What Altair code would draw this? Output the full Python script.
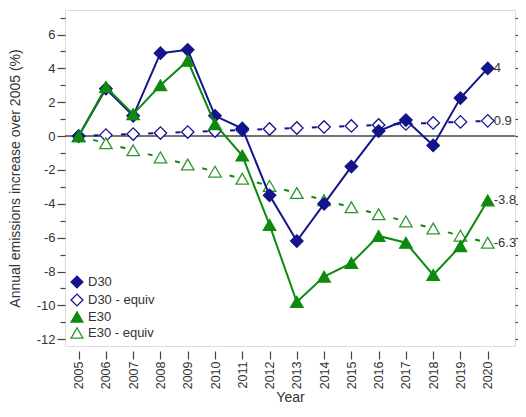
import altair as alt
import pandas as pd

years = list(range(2005, 2021))
d30 = [0, 2.8, 1.2, 4.9, 5.1, 1.2, 0.45, -3.5, -6.2, -4.0, -1.8, 0.3, 0.95, -0.55, 2.25, 4.0]
d30_equiv = [0, 0.06, 0.12, 0.18, 0.24, 0.3, 0.36, 0.42, 0.48, 0.54, 0.6, 0.66, 0.72, 0.78, 0.84, 0.9]
e30 = [0, 2.9, 1.3, 3.0, 4.45, 0.7, -1.15, -5.25, -9.8, -8.3, -7.5, -5.9, -6.3, -8.2, -6.5, -3.8]
e30_equiv = [0, -0.42, -0.84, -1.26, -1.68, -2.1, -2.52, -2.94, -3.36, -3.78, -4.2, -4.62, -5.04, -5.46, -5.88, -6.3]
series_names = ["D30", "D30 - equiv", "E30", "E30 - equiv"]
end_labels = ["4", "0.9", "-3.8", "-6.3"]
y_ticks = list(range(-12, 8))
x_ticks = list(range(2005, 2021))

NAVY = "#14148c"
GREEN = "#0e8a0e"
GREEN2 = "#2f962f"

rows = []
for name, vals, lab in zip(series_names, [d30, d30_equiv, e30, e30_equiv], end_labels):
    for i, (yr, v) in enumerate(zip(years, vals)):
        rows.append({"year": yr, "value": v, "series": name,
                     "label": lab if i == len(years) - 1 else ""})
df = pd.DataFrame(rows)
zero_df = pd.DataFrame({"v": [0]})

yscale = alt.Scale(domain=[-12.4, 7.45], nice=False, zero=False)
xscale = alt.Scale(domain=[2004.5, 2021.0], nice=False, zero=False)

x_axis = alt.Axis(values=x_ticks, format="d",
                  labelAngle=270, labelFontSize=12.5, labelColor="#333", domain=False,
                  offset=5, tickSize=8, tickColor="#444", tickWidth=1.2, labelPadding=2,
                  labelFlush=False,
                  title="Year", titleFontSize=14, titleFontWeight="normal", titleColor="#333",
                  titlePadding=2, grid=False)
X = alt.X("year:Q", scale=xscale, axis=x_axis)

left_axis = alt.Axis(values=y_ticks,
                     labelExpr="datum.value % 2 === 0 ? '' + datum.value : ''",
                     tickSize={"condition": {"test": "datum.value % 2 === 0", "value": 8}, "value": 5},
                     tickColor="#444", tickWidth=1.2, domain=False, grid=False,
                     labelFontSize=13, labelColor="#333", labelPadding=2,
                     title="Annual emissions increase over 2005 (%)", titleFontSize=14,
                     titleFontWeight="normal", titleColor="#333", titlePadding=14)
right_axis = alt.Axis(orient="right", values=y_ticks, labels=False, tickSize=3,
                      tickColor="#444", tickWidth=1.2, domain=False, grid=False, title=None)

base = alt.Chart(df)

def Yv(axis=None):
    return alt.Y("value:Q", scale=yscale, axis=axis)

legend = alt.Legend(title=None, orient="bottom-left", offset=5, padding=0,
                    labelFontSize=13, labelColor="#333", symbolSize=140,
                    symbolStrokeWidth=1.3, labelOffset=4, rowPadding=0)
shape_enc = alt.Shape("series:N", scale=alt.Scale(domain=series_names,
                      range=["diamond", "diamond", "triangle-up", "triangle-up"]), legend=legend)
fill_enc = alt.Fill("series:N", scale=alt.Scale(domain=series_names,
                    range=[NAVY, "white", GREEN, "white"]), legend=legend)
stroke_enc = alt.Stroke("series:N", scale=alt.Scale(domain=series_names,
                        range=[NAVY, NAVY, GREEN, GREEN2]), legend=legend)

def line_layer(name, color, dash=None, offset=None):
    kw = {}
    if dash is not None:
        kw["strokeDash"] = dash
        kw["strokeDashOffset"] = offset
    return base.transform_filter(alt.datum.series == name).mark_line(
        color=color, strokeWidth=2, **kw).encode(x=X, y=Yv())

def point_layer(name):
    return base.transform_filter(alt.datum.series == name).mark_point(
        size=155, opacity=1, strokeWidth=1.3, filled=False).encode(
        x=X, y=Yv(), shape=shape_enc, fill=fill_enc, stroke=stroke_enc)

zero_rule = alt.Chart(zero_df).mark_rule(color="#444", strokeWidth=1.5).encode(
    y=alt.Y("v:Q", scale=yscale, axis=left_axis))
right_ax = alt.Chart(zero_df).mark_rule(opacity=0).encode(
    y=alt.Y("v:Q", scale=yscale, axis=right_axis))

labels = base.transform_filter(alt.datum.label != "").mark_text(
    align="left", baseline="middle", dx=6, fontSize=13, color="#333", font="Arial"
).encode(x=X, y=Yv(), text="label:N")

chart = alt.layer(
    zero_rule, right_ax,
    line_layer("D30 - equiv", NAVY, [5, 22.3], 12.3),
    line_layer("E30 - equiv", GREEN, [5, 23.2], 13.2),
    point_layer("D30 - equiv"),
    point_layer("E30 - equiv"),
    line_layer("D30", NAVY),
    point_layer("D30"),
    line_layer("E30", GREEN),
    point_layer("E30"),
    labels,
).resolve_scale(y="independent").properties(
    width=450, height=336,
    autosize=alt.AutoSizeParams(type="none"),
    padding={"left": 57, "top": 2, "right": 3, "bottom": 58},
).configure_view(stroke="#555", strokeWidth=1.5).configure(font="Arial").configure_legend(
    rowPadding=0, symbolSize=140)

chart.save("out.html", embed_options={"renderer": "svg", "actions": False})
